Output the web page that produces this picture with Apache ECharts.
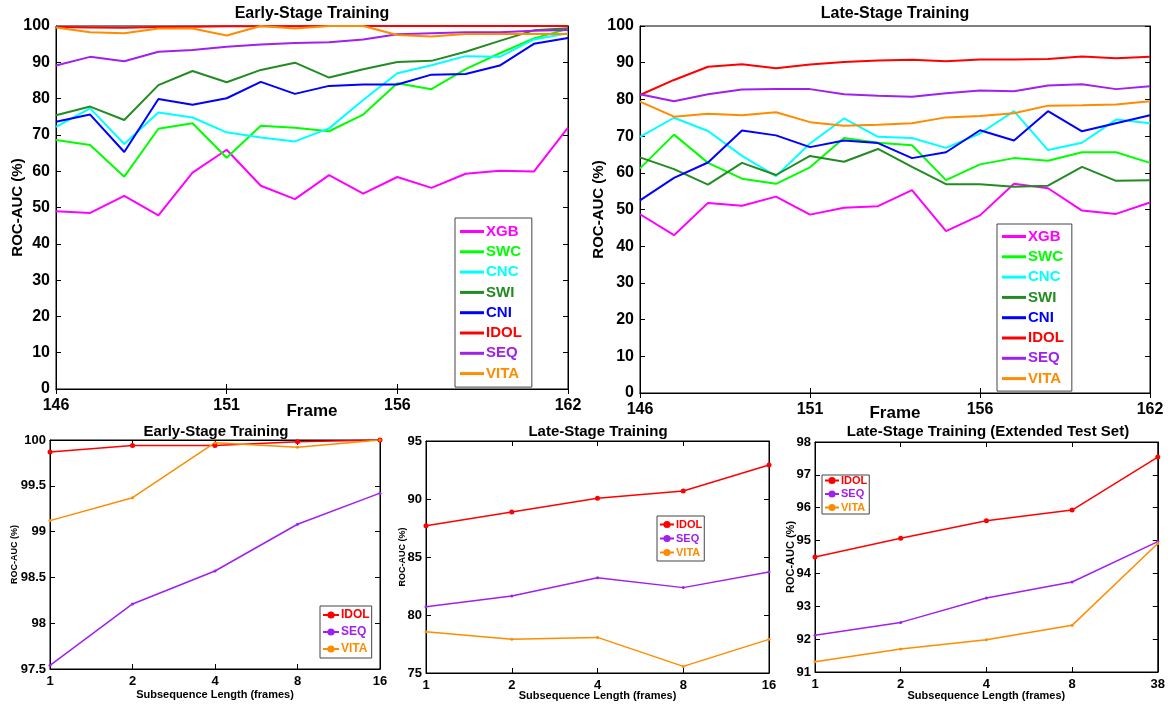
<!DOCTYPE html>
<html>
<head>
<meta charset="UTF-8">
<title></title>
<script src="https://cdn.jsdelivr.net/npm/echarts@6/dist/echarts.min.js"></script>
</head>
<body style="margin: 0; background: #fff">
<div id="container" style="width: 1168px; height: 706px"></div>
<script type="text/javascript">
// frames shown on the upper plots (16 points, ticks at 146/151/156/162)
var frames = ['146','147','148','149','150','151','152','153','154','155','156','157','158','159','160','162'];
var frameTicks = [0, 5, 10, 15];

// Early-stage training per frame
var earlyXGB  = [49, 48.5, 53.2, 47.8, 59.6, 65.9, 56, 52.3, 58.9, 53.8, 58.4, 55.4, 59.3, 60.1, 59.9, 72];
var earlySWC  = [68.6, 67.2, 58.5, 71.7, 73.2, 63.7, 72.5, 72, 71, 75.6, 84.2, 82.6, 88.1, 92.5, 96.6, 99.2];
var earlyCNC  = [72.2, 77.3, 67.5, 76.2, 74.8, 70.7, 69.3, 68.2, 71.8, 79.6, 87, 89.2, 91.7, 91.5, 96.3, 98];
var earlySWI  = [75.4, 77.8, 74.1, 83.7, 87.6, 84.5, 87.9, 89.9, 85.8, 88.1, 90.1, 90.4, 92.9, 95.9, 98.8, 99.4];
var earlyCNI  = [73.6, 75.6, 65.3, 79.9, 78.3, 80.1, 84.6, 81.3, 83.5, 83.9, 83.9, 86.6, 86.8, 89.1, 95.1, 96.7];
var earlyIDOL = [99.7, 99.6, 99.5, 99.7, 99.8, 99.9, 99.9, 99.9, 100, 100, 100, 100, 100, 100, 100, 100];
var earlySEQ  = [89.1, 91.5, 90.3, 92.9, 93.4, 94.3, 94.9, 95.3, 95.5, 96.3, 97.7, 98, 98.3, 98.3, 98.7, 98.9];
var earlyVITA = [99.6, 98.3, 98, 99.3, 99.3, 97.4, 100, 99.3, 100, 100, 97.5, 97.1, 97.8, 97.8, 97.8, 97.8];

// Late-stage training per frame
var lateXGB  = [48.7, 43, 51.8, 51, 53.5, 48.6, 50.5, 50.9, 55.3, 44.1, 48.4, 57, 55.8, 49.7, 48.8, 51.9];
var lateSWC  = [61.2, 70.4, 62.7, 58.4, 57, 61.5, 69.5, 68.2, 67.5, 58, 62.3, 64, 63.3, 65.6, 65.6, 62.7];
var lateCNC  = [69.8, 75, 71.4, 64.6, 59.1, 68, 74.8, 69.8, 69.5, 66.8, 70.7, 76.8, 66.2, 68.2, 74.5, 73.5];
var lateSWI  = [64.2, 61, 56.8, 62.7, 59.4, 64.6, 63, 66.5, 61.6, 56.9, 56.9, 56.2, 56.5, 61.6, 57.8, 58];
var lateCNI  = [52.5, 58.6, 62.8, 71.5, 70.2, 67, 68.8, 68.1, 64, 65.6, 71.6, 68.8, 76.8, 71.3, 73.5, 75.7];
var lateIDOL = [81.2, 85.3, 88.9, 89.6, 88.5, 89.5, 90.2, 90.6, 90.8, 90.4, 90.9, 90.9, 91, 91.7, 91.2, 91.6];
var lateSEQ  = [81.4, 79.5, 81.4, 82.7, 82.8, 82.8, 81.4, 81, 80.7, 81.7, 82.4, 82.2, 83.8, 84.1, 82.8, 83.6];
var lateVITA = [79.4, 75.3, 76.1, 75.7, 76.5, 73.8, 72.8, 73.1, 73.5, 75.1, 75.5, 76.2, 78.3, 78.4, 78.6, 79.5];

// subsequence length plots
var subLen = ['1', '2', '4', '8', '16'];
var subLenExt = ['1', '2', '4', '8', '38'];
var subEarlyIDOL = [99.87, 99.94, 99.94, 99.98, 100];
var subEarlySEQ  = [97.54, 98.21, 98.57, 99.08, 99.42];
var subEarlyVITA = [99.12, 99.37, 99.97, 99.92, 100];
var subLateIDOL = [87.7, 88.88, 90.06, 90.69, 92.93];
var subLateSEQ  = [80.72, 81.64, 83.22, 82.36, 83.71];
var subLateVITA = [78.56, 77.9, 78.07, 75.57, 77.9];
var subExtIDOL = [94.5, 95.07, 95.6, 95.93, 97.54];
var subExtSEQ  = [92.12, 92.51, 93.25, 93.74, 94.97];
var subExtVITA = [91.31, 91.7, 91.98, 92.42, 94.91];

var methods = ['XGB', 'SWC', 'CNC', 'SWI', 'CNI', 'IDOL', 'SEQ', 'VITA'];
var colors = {
    XGB: '#ff00ff', SWC: '#00ff00', CNC: '#00ffff', SWI: '#228b22',
    CNI: '#0000ff', IDOL: '#ff0000', SEQ: '#a020f0', VITA: '#ff8c00'
};
var earlyData = [earlyXGB, earlySWC, earlyCNC, earlySWI, earlyCNI, earlyIDOL, earlySEQ, earlyVITA];
var lateData = [lateXGB, lateSWC, lateCNC, lateSWI, lateCNI, lateIDOL, lateSEQ, lateVITA];

var FONT = 'Liberation Sans';
var dom = document.getElementById('container');
var myChart = echarts.init(dom, null, {renderer: 'canvas'});

var grids = [
    {left: 56, top: 26, width: 512, height: 363},
    {left: 640, top: 26, width: 510, height: 367},
    {left: 50, top: 440, width: 330, height: 229},
    {left: 426, top: 441, width: 343, height: 232},
    {left: 815, top: 442, width: 343, height: 230}
];
grids.forEach(function (g) {
    g.show = true;
    g.borderColor = '#000';
    g.borderWidth = 1;
    g.backgroundColor = '#fff';
});

function showTick(i) { return frameTicks.indexOf(i) >= 0; }

function xCat(gi, data, big, gap, label, nameSize) {
    return {
        type: 'category', gridIndex: gi, data: data, boundaryGap: false,
        name: label, nameLocation: 'middle', nameGap: gap, nameMoveOverlap: false,
        nameTextStyle: {fontFamily: FONT, fontWeight: 'bold', fontSize: nameSize, color: '#000'},
        axisLine: {lineStyle: {color: '#000'}},
        axisTick: {inside: true, length: 5, interval: big ? showTick : 0, lineStyle: {color: '#000'}},
        axisLabel: {interval: big ? showTick : 0, margin: big ? 9 : 6, color: '#000', fontFamily: FONT,
            fontWeight: 'bold', fontSize: big ? 16 : 13},
        splitLine: {show: false}
    };
}
function yVal(gi, min, max, step, big, gap, nameSize) {
    return {
        type: 'value', gridIndex: gi, min: min, max: max, interval: step,
        name: 'ROC-AUC (%)', nameLocation: 'middle', nameGap: gap, nameMoveOverlap: false,
        nameTextStyle: {fontFamily: FONT, fontWeight: 'bold', fontSize: nameSize, color: '#000'},
        axisLine: {show: true, lineStyle: {color: '#000'}},
        axisTick: {show: true, inside: true, length: 5, lineStyle: {color: '#000'}},
        axisLabel: {margin: big ? 6 : 4, color: '#000', fontFamily: FONT, fontWeight: 'bold', fontSize: big ? 16 : 13},
        splitLine: {show: false}
    };
}
// mirrored ticks on top / right, like the original box plots
function xMirror(gi, data, big) {
    return {
        type: 'category', gridIndex: gi, data: data, boundaryGap: false, position: 'top',
        axisLine: {lineStyle: {color: '#000'}},
        axisTick: {inside: true, length: 5, interval: big ? showTick : 0, lineStyle: {color: '#000'}},
        axisLabel: {show: false}, splitLine: {show: false}
    };
}
function yMirror(gi, min, max, step) {
    return {
        type: 'value', gridIndex: gi, min: min, max: max, interval: step, position: 'right',
        axisLine: {show: true, lineStyle: {color: '#000'}},
        axisTick: {show: true, inside: true, length: 5, lineStyle: {color: '#000'}},
        axisLabel: {show: false}, splitLine: {show: false}
    };
}

var xAxes = [
    xCat(0, frames, true, 14, 'Frame', 17),
    xCat(1, frames, true, 12, 'Frame', 17),
    xCat(2, subLen, false, 20, 'Subsequence Length (frames)', 11),
    xCat(3, subLen, false, 17, 'Subsequence Length (frames)', 11),
    xCat(4, subLenExt, false, 18, 'Subsequence Length (frames)', 11),
    xMirror(0, frames, true), xMirror(1, frames, true),
    xMirror(2, subLen, false), xMirror(3, subLen, false), xMirror(4, subLenExt, false)
];
var yAxes = [
    yVal(0, 0, 100, 10, true, 31, 15),
    yVal(1, 0, 100, 10, true, 34, 15),
    yVal(2, 97.5, 100, 0.5, false, 31, 9),
    yVal(3, 75, 95, 5, false, 19, 9),
    yVal(4, 91, 98, 1, false, 19, 11),
    yMirror(0, 0, 100, 10), yMirror(1, 0, 100, 10),
    yMirror(2, 97.5, 100, 0.5), yMirror(3, 75, 95, 5), yMirror(4, 91, 98, 1)
];

var series = [];
methods.forEach(function (m, k) {
    series.push({name: m, type: 'line', xAxisIndex: 0, yAxisIndex: 0, data: earlyData[k],
        symbol: 'none', lineStyle: {width: 2, color: colors[m]}, itemStyle: {color: colors[m]}, z: 2 + k});
    series.push({name: m, type: 'line', xAxisIndex: 1, yAxisIndex: 1, data: lateData[k],
        symbol: 'none', lineStyle: {width: 2, color: colors[m]}, itemStyle: {color: colors[m]}, z: 2 + k});
});
function subSeries(gi, name, data) {
    var isIdol = name === 'IDOL';
    return {name: name, type: 'line', xAxisIndex: gi, yAxisIndex: gi, data: data,
        symbol: 'circle', symbolSize: isIdol ? 5 : 3, showAllSymbol: true,
        lineStyle: {width: 1.5, color: colors[name]}, itemStyle: {color: colors[name]}, z: 5};
}
series.push(subSeries(2, 'IDOL', subEarlyIDOL), subSeries(2, 'SEQ', subEarlySEQ), subSeries(2, 'VITA', subEarlyVITA));
series.push(subSeries(3, 'IDOL', subLateIDOL), subSeries(3, 'SEQ', subLateSEQ), subSeries(3, 'VITA', subLateVITA));
series.push(subSeries(4, 'IDOL', subExtIDOL), subSeries(4, 'SEQ', subExtSEQ), subSeries(4, 'VITA', subExtVITA));

// lineOnly: the upper legends show a plain line sample, the lower ones line + marker
function legendBox(names, left, top, size, gap, iw, pad, lineOnly) {
    var lg = {
        orient: 'vertical', left: left, top: top, selectedMode: false,
        data: names.map(function (n) { return {name: n, textStyle: {color: colors[n]}}; }),
        itemWidth: iw, itemHeight: lineOnly ? 3 : 9, itemGap: gap,
        padding: pad, borderColor: '#444', borderWidth: 1, backgroundColor: '#fff',
        textStyle: {fontFamily: FONT, fontWeight: 'bold', fontSize: size, padding: [0, 0, 0, -3]}
    };
    if (lineOnly) lg.icon = 'rect';
    return lg;
}

function titleAt(text, x, y, size) {
    return {text: text, left: x, top: y, textAlign: 'center', padding: 0,
        textStyle: {fontFamily: FONT, fontWeight: 'bold', fontSize: size, color: '#000'}};
}

option = {
    backgroundColor: '#fff',
    animation: false,
    title: [
        titleAt('Early-Stage Training', 312, 6, 16),
        titleAt('Late-Stage Training', 895, 6, 16),
        titleAt('Early-Stage Training', 216, 424, 15),
        titleAt('Late-Stage Training', 598, 424, 15),
        titleAt('Late-Stage Training (Extended Test Set)', 988, 424, 15)
    ],
    legend: [
        legendBox(methods, 455, 218, 15, 5.3, 24, [6, 10, 6, 5], true),
        legendBox(methods, 997, 224, 15, 5.3, 24, [5, 8, 5, 5], true),
        legendBox(['IDOL', 'SEQ', 'VITA'], 320, 606, 12, 5, 16, [3, 2, 3, 2], false),
        legendBox(['IDOL', 'SEQ', 'VITA'], 657, 516, 11, 3, 14, [3, 2, 3, 2], false),
        legendBox(['IDOL', 'SEQ', 'VITA'], 822, 475, 11, 2.5, 14, [0, 2, 1, 2], false)
    ],
    grid: grids,
    xAxis: xAxes,
    yAxis: yAxes,
    series: series
};

if (option && typeof option === 'object') {
    myChart.setOption(option, true);
}
</script>
</body>
</html>
